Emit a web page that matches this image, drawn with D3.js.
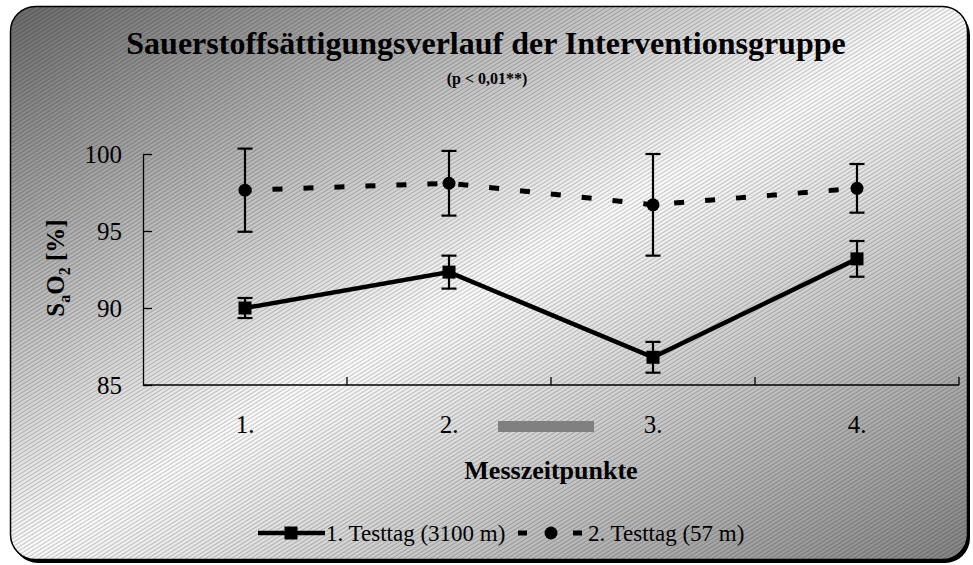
<!DOCTYPE html>
<html>
<head>
<meta charset="utf-8">
<script src="https://cdn.jsdelivr.net/npm/d3@7"></script>
<style>
  body { margin: 0; background: #fff; }
  svg text { font-family: "Liberation Serif", "Times New Roman", serif; fill: #000; }
</style>
</head>
<body>
<div class="chart"></div>
<script>
var svgWidth = 973;
var svgHeight = 565;

// data
var categories = ["1.", "2.", "3.", "4."];
var day1Mean = [90.0, 92.33, 86.8, 93.19];
var day1Sd = [0.65, 1.07, 1.0, 1.16];
var day2Mean = [97.65, 98.1, 96.7, 97.77];
var day2Sd = [2.7, 2.1, 3.3, 1.58];
var yTicks = [85, 90, 95, 100];
var seriesNames = ["1. Testtag (3100 m)", "2. Testtag (57 m)"];

var plot = { left: 143, right: 959, top: 154, bottom: 385 };

var svg = d3.select(".chart")
  .append("svg")
  .attr("width", svgWidth)
  .attr("height", svgHeight);

var defs = svg.append("defs");

var grad = defs.append("linearGradient")
  .attr("id", "bgGrad")
  .attr("x1", 0).attr("y1", 0)
  .attr("x2", 1).attr("y2", 1);
grad.append("stop").attr("offset", "0%").attr("stop-color", "#6c6c6c");
grad.append("stop").attr("offset", "50%").attr("stop-color", "#ffffff");
grad.append("stop").attr("offset", "100%").attr("stop-color", "#858585");

var hatch = defs.append("pattern")
  .attr("id", "hatch")
  .attr("patternUnits", "userSpaceOnUse")
  .attr("width", 8).attr("height", 3.4)
  .attr("patternTransform", "rotate(-32)");
hatch.append("rect")
  .attr("x", 0).attr("y", 0.6)
  .attr("width", 8).attr("height", 1.2)
  .attr("fill", "rgba(0,0,0,0.22)");

// frame with shadow
svg.append("rect")
  .attr("x", 13).attr("y", 10)
  .attr("width", 957).attr("height", 553)
  .attr("rx", 25)
  .attr("fill", "#000");

svg.append("rect")
  .attr("x", 10.5).attr("y", 6.5)
  .attr("width", 957).attr("height", 553)
  .attr("rx", 25)
  .attr("fill", "url(#bgGrad)");

svg.append("rect")
  .attr("x", 10.5).attr("y", 6.5)
  .attr("width", 957).attr("height", 553)
  .attr("rx", 25)
  .attr("fill", "url(#hatch)")
  .attr("stroke", "#000")
  .attr("stroke-width", 1.5);

// titles
svg.append("text")
  .attr("x", 486).attr("y", 54)
  .attr("text-anchor", "middle")
  .style("font-size", "32px")
  .style("font-weight", "bold")
  .text("Sauerstoffsättigungsverlauf der Interventionsgruppe");

svg.append("text")
  .attr("x", 487).attr("y", 84)
  .attr("text-anchor", "middle")
  .style("font-size", "16px")
  .style("font-weight", "bold")
  .text("(p < 0,01**)");

// scales
var x = d3.scaleBand()
  .domain(categories)
  .range([plot.left, plot.right])
  .padding(0);

var y = d3.scaleLinear()
  .domain([85, 100])
  .range([plot.bottom, plot.top]);

var cx = function(d, i) { return x(categories[i]) + x.bandwidth() / 2; };

// y axis
var leftAxis = d3.axisLeft(y)
  .tickValues(yTicks)
  .tickSizeInner(-9)
  .tickSizeOuter(0)
  .tickPadding(21);

var yAxisG = svg.append("g")
  .attr("transform", `translate(${plot.left}, 0)`)
  .call(leftAxis);
yAxisG.select(".domain").attr("stroke", "#000").attr("stroke-width", 1.3);
yAxisG.selectAll(".tick line").attr("stroke", "#000").attr("stroke-width", 1.3);
yAxisG.selectAll(".tick text")
  .style("font-size", "25px")
  .style("font-family", "Liberation Serif, serif")
  .attr("dy", "0.34em");

// x axis: line plus category boundary ticks pointing up
var xAxisG = svg.append("g");
xAxisG.append("line")
  .attr("x1", plot.left).attr("x2", plot.right)
  .attr("y1", plot.bottom).attr("y2", plot.bottom)
  .attr("stroke", "#000").attr("stroke-width", 1.3);
xAxisG.selectAll("line.xtick")
  .data(categories)
  .enter()
  .append("line")
  .attr("class", "xtick")
  .attr("x1", d => x(d) + x.bandwidth())
  .attr("x2", d => x(d) + x.bandwidth())
  .attr("y1", plot.bottom)
  .attr("y2", plot.bottom - 8)
  .attr("stroke", "#000").attr("stroke-width", 1.3);
xAxisG.selectAll("text.xlab")
  .data(categories)
  .enter()
  .append("text")
  .attr("class", "xlab")
  .attr("x", d => x(d) + x.bandwidth() / 2)
  .attr("y", 433)
  .attr("text-anchor", "middle")
  .style("font-size", "25px")
  .text(d => d);

// grey bar below the axis between 2. and 3.
svg.append("rect")
  .attr("x", x("3.") - 53).attr("y", 421)
  .attr("width", 96).attr("height", 11)
  .attr("fill", "#808080");

// axis titles
svg.append("text")
  .attr("x", (plot.left + plot.right) / 2)
  .attr("y", 479)
  .attr("text-anchor", "middle")
  .style("font-size", "26px")
  .style("font-weight", "bold")
  .text("Messzeitpunkte");

var yTitle = svg.append("text")
  .attr("transform", "translate(64, 268) rotate(-90)")
  .attr("text-anchor", "middle")
  .style("font-size", "25px")
  .style("font-weight", "bold");
yTitle.append("tspan").text("S");
yTitle.append("tspan").attr("dy", 6).style("font-size", "16px").text("a");
yTitle.append("tspan").attr("dy", -6).text("O");
yTitle.append("tspan").attr("dy", 6).style("font-size", "16px").text("2");
yTitle.append("tspan").attr("dy", -6).text(" [%]");

// series
var line = d3.line()
  .x((d, i) => cx(d, i))
  .y(d => y(d));

function errorBars(means, sds, cls) {
  var g = svg.append("g").attr("class", cls);
  var cap = 7.5;
  means.forEach(function(m, i) {
    var xc = cx(m, i);
    g.append("line")
      .attr("x1", xc).attr("x2", xc)
      .attr("y1", y(m + sds[i])).attr("y2", y(m - sds[i]))
      .attr("stroke", "#000").attr("stroke-width", 2.2);
    [m + sds[i], m - sds[i]].forEach(function(v) {
      g.append("line")
        .attr("x1", xc - cap).attr("x2", xc + cap)
        .attr("y1", y(v)).attr("y2", y(v))
        .attr("stroke", "#000").attr("stroke-width", 2.2);
    });
  });
}

errorBars(day2Mean, day2Sd, "err2");
errorBars(day1Mean, day1Sd, "err1");

svg.append("path")
  .datum(day2Mean)
  .attr("d", line)
  .attr("fill", "none")
  .attr("stroke", "#000")
  .attr("stroke-width", 5)
  .attr("stroke-dasharray", "10,21")
  .attr("stroke-dashoffset", 3.5);

svg.append("path")
  .datum(day1Mean)
  .attr("d", line)
  .attr("fill", "none")
  .attr("stroke", "#000")
  .attr("stroke-width", 4.5)
  .attr("stroke-linejoin", "miter");

svg.selectAll("circle.day2")
  .data(day2Mean)
  .enter()
  .append("circle")
  .attr("class", "day2")
  .attr("cx", (d, i) => cx(d, i))
  .attr("cy", d => y(d))
  .attr("r", 6.5)
  .attr("fill", "#000");

svg.selectAll("rect.day1")
  .data(day1Mean)
  .enter()
  .append("rect")
  .attr("class", "day1")
  .attr("x", (d, i) => cx(d, i) - 6.5)
  .attr("y", d => y(d) - 6.5)
  .attr("width", 13).attr("height", 13)
  .attr("fill", "#000");

// legend
var legend = svg.append("g");
legend.append("line")
  .attr("x1", 258).attr("x2", 325)
  .attr("y1", 533).attr("y2", 533)
  .attr("stroke", "#000").attr("stroke-width", 4.5);
legend.append("rect")
  .attr("x", 284.5).attr("y", 526.5)
  .attr("width", 13).attr("height", 13)
  .attr("fill", "#000");
legend.append("text")
  .attr("x", 326).attr("y", 541)
  .style("font-size", "23px")
  .text(seriesNames[0]);

legend.append("line")
  .attr("x1", 518).attr("x2", 582)
  .attr("y1", 533).attr("y2", 533)
  .attr("stroke", "#000").attr("stroke-width", 5)
  .attr("stroke-dasharray", "9,46");
legend.append("circle")
  .attr("cx", 551).attr("cy", 533)
  .attr("r", 6.5)
  .attr("fill", "#000");
legend.append("text")
  .attr("x", 588).attr("y", 541)
  .style("font-size", "23px")
  .text(seriesNames[1]);
</script>
</body>
</html>
